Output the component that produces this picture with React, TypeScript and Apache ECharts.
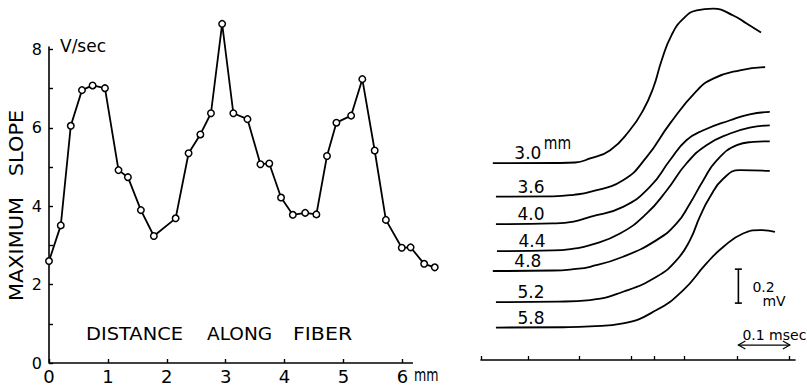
import React, { useEffect, useRef } from 'react';
import * as echarts from 'echarts';

// ---- Left panel: maximum slope vs distance along fiber ----
const distanceMm = [0, 0.2, 0.37, 0.56, 0.74, 0.95, 1.18, 1.34, 1.56, 1.78, 2.15, 2.37, 2.57, 2.75, 2.94, 3.13, 3.37, 3.59, 3.74, 3.94, 4.14, 4.35, 4.54, 4.72, 4.88, 5.13, 5.32, 5.53, 5.72, 5.99, 6.14, 6.37, 6.55];
const maxSlope = [2.6, 3.51, 6.05, 6.96, 7.08, 7.01, 4.92, 4.74, 3.9, 3.24, 3.69, 5.35, 5.83, 6.37, 8.65, 6.37, 6.22, 5.07, 5.09, 4.22, 3.78, 3.83, 3.79, 5.28, 6.13, 6.31, 7.24, 5.42, 3.65, 2.94, 2.95, 2.53, 2.44];
const xTickValues = [0, 1, 2, 3, 4, 5, 6];
const yTickValues = [0, 1, 2, 3, 4, 5, 6, 7, 8];
const yLabelValues = [0, 2, 4, 6, 8];
const xAxisEndMm = 6.18;

// ---- Right panel: recorded traces (time in msec, potential in mV) ----
const traceLabels = ['3.0', '3.6', '4.0', '4.4', '4.8', '5.2', '5.8'];
const trace30 = [[0.023, 1.159], [0.15, 1.16], [0.183, 1.163], [0.212, 1.187], [0.251, 1.235], [0.289, 1.353], [0.315, 1.471], [0.335, 1.606], [0.351, 1.765], [0.37, 1.912], [0.393, 2.01], [0.419, 2.059], [0.451, 2.069], [0.49, 2.029], [0.516, 1.981], [0.544, 1.928]];
const trace36 = [[0.029, 0.962], [0.14, 0.964], [0.18, 0.973], [0.212, 0.99], [0.276, 1.059], [0.322, 1.196], [0.367, 1.392], [0.418, 1.582], [0.451, 1.657], [0.503, 1.706], [0.552, 1.725]];
const trace40 = [[0.029, 0.8], [0.14, 0.804], [0.18, 0.815], [0.212, 0.843], [0.276, 0.902], [0.328, 1.019], [0.367, 1.176], [0.399, 1.294], [0.432, 1.353], [0.484, 1.412], [0.522, 1.447], [0.561, 1.461]];
const trace44 = [[0.031, 0.641], [0.14, 0.645], [0.18, 0.656], [0.212, 0.676], [0.27, 0.745], [0.322, 0.863], [0.361, 1.0], [0.399, 1.157], [0.438, 1.265], [0.484, 1.334], [0.522, 1.369], [0.561, 1.382]];
const trace48 = [[0.023, 0.524], [0.14, 0.527], [0.18, 0.535], [0.212, 0.549], [0.276, 0.608], [0.341, 0.706], [0.38, 0.804], [0.406, 0.922], [0.432, 1.059], [0.458, 1.176], [0.497, 1.265], [0.529, 1.284], [0.561, 1.288]];
const trace52 = [[0.029, 0.341], [0.15, 0.344], [0.212, 0.353], [0.276, 0.402], [0.341, 0.49], [0.38, 0.588], [0.406, 0.706], [0.425, 0.843], [0.445, 0.961], [0.471, 1.069], [0.503, 1.118], [0.561, 1.114]];
const trace58 = [[0.029, 0.191], [0.16, 0.193], [0.212, 0.198], [0.276, 0.216], [0.341, 0.294], [0.393, 0.412], [0.438, 0.569], [0.471, 0.667], [0.509, 0.745], [0.542, 0.765], [0.571, 0.755]];
const traces = [trace30, trace36, trace40, trace44, trace48, trace52, trace58];
const timeTicks = [0, 0.092, 0.191, 0.291, 0.336, 0.395, 0.497, 0.599];

// calibration marks
const calTimeMs = 0.5;
const calTimeSpanMs = 0.1;
const calVoltMv0 = 0.335;
const calVoltSpanMv = 0.2;
const calArrowMv = 0.088;

const FONT = 'DejaVu Sans';

export default function App() {
  const ref = useRef<HTMLDivElement>(null);
  useEffect(() => {
    if (!ref.current) return;
    const chart = echarts.init(ref.current, undefined, { renderer: 'svg' });
    const black = '#000';
    const option: any = {
      animation: false,
      backgroundColor: '#fff',
      grid: [
        { left: 49, top: 47, width: 388.7, height: 316, outerBoundsMode: 'none', containLabel: false },
        { left: 481, top: 0, width: 314, height: 360, outerBoundsMode: 'none', containLabel: false },
      ],
      xAxis: [
        {
          gridIndex: 0, type: 'value', min: 0, max: 6.6, interval: 1,
          axisLine: { show: false },
          axisTick: { show: true, inside: true, length: 4, customValues: xTickValues, lineStyle: { color: black, width: 1.4 } },
          axisLabel: { customValues: xTickValues, fontSize: 18, color: black, margin: 4, fontFamily: FONT },
          splitLine: { show: false },
        },
        {
          gridIndex: 1, type: 'value', min: 0, max: 0.61,
          axisLine: { show: true, onZero: false, lineStyle: { color: black, width: 1.6 } },
          axisTick: { show: true, inside: true, length: 4, customValues: timeTicks, lineStyle: { color: black, width: 1.3 } },
          axisLabel: { show: false },
          splitLine: { show: false },
        },
      ],
      yAxis: [
        {
          gridIndex: 0, type: 'value', min: 0, max: 8.06, interval: 1,
          axisLine: { show: true, onZero: false, lineStyle: { color: black, width: 1.6 } },
          axisTick: { show: true, inside: true, length: 4, customValues: yTickValues, lineStyle: { color: black, width: 1.4 } },
          axisLabel: { customValues: yLabelValues, fontSize: 16, color: black, margin: 7, fontFamily: FONT,
            formatter: (v: number) => (v % 2 === 0 ? String(v) : '') },
          splitLine: { show: false },
        },
        { gridIndex: 1, type: 'value', min: 0, max: 2.12, show: false, splitLine: { show: false } },
      ],
      series: [
        {
          type: 'line', xAxisIndex: 0, yAxisIndex: 0,
          data: distanceMm.map((d, i) => [d, maxSlope[i]]),
          symbol: 'circle', symbolSize: 6.5, showSymbol: true, showAllSymbol: true, clip: false,
          lineStyle: { color: black, width: 1.8 },
          itemStyle: { color: '#fff', borderColor: black, borderWidth: 1.5 },
          emphasis: { disabled: true }, z: 3,
        },
        ...traces.map((t) => ({
          type: 'line', xAxisIndex: 1, yAxisIndex: 1, data: t,
          showSymbol: false, symbol: 'none', smooth: 0.5, clip: false,
          lineStyle: { color: black, width: 1.8 },
          emphasis: { disabled: true },
        })),
      ],
    };
    chart.setOption(option);

    const toPx = (p: number[]) => chart.convertToPixel({ gridIndex: 1 }, p) as number[];
    const toPxL = (p: number[]) => chart.convertToPixel({ gridIndex: 0 }, p) as number[];
    const txt = (text: string, x: number, y: number, fontSize: number, extra: any = {}) => ({
      type: 'text', x, y, ...extra,
      style: { text, fontSize, fill: black, fontFamily: FONT, align: extra.align || 'left', verticalAlign: 'middle' },
    });
    const graphics: any[] = [];
    // left x axis line (ends short of the last measurements)
    const [lx0, ly0] = toPxL([0, 0]);
    const [lx1] = toPxL([xAxisEndMm, 0]);
    graphics.push({ type: 'line', shape: { x1: lx0, y1: ly0, x2: lx1, y2: ly0 }, style: { stroke: black, lineWidth: 1.6 }, z: 5 });
    // left panel annotations
    graphics.push(txt('V/sec', 60, 46, 17));
    graphics.push(txt('MAXIMUM', 16, 249, 19, { rotation: Math.PI / 2, scaleX: 1.1, align: 'center' }));
    graphics.push(txt('SLOPE', 16, 143, 19, { rotation: Math.PI / 2, scaleX: 1.1, align: 'center' }));
    graphics.push(txt('DISTANCE', 86, 334, 18, { scaleX: 1.08 }));
    graphics.push(txt('ALONG', 207, 334, 18, { scaleX: 1.03 }));
    graphics.push(txt('FIBER', 293, 334, 18, { scaleX: 1.14 }));
    graphics.push(txt('mm', 414, 375, 18, { scaleX: 0.7 }));

    // trace labels
    traces.forEach((t, i) => {
      const [px, py] = toPx(t[0]);
      graphics.push(txt(traceLabels[i], px + 35, py - 10, 17, { align: 'center' }));
      if (i === 0) graphics.push(txt('mm', px + 51, py - 20, 18, { scaleX: 0.78 }));
    });

    // voltage calibration bar
    const [bx, by0] = toPx([calTimeMs, calVoltMv0]);
    const [, by1] = toPx([calTimeMs, calVoltMv0 + calVoltSpanMv]);
    const ls = { stroke: black, lineWidth: 1.6 };
    graphics.push({ type: 'line', shape: { x1: bx, y1: by0, x2: bx, y2: by1 }, style: ls });
    graphics.push({ type: 'line', shape: { x1: bx - 3.5, y1: by0, x2: bx + 3.5, y2: by0 }, style: ls });
    graphics.push({ type: 'line', shape: { x1: bx - 3.5, y1: by1, x2: bx + 3.5, y2: by1 }, style: ls });
    graphics.push(txt('0.2', bx + 14, (by0 + by1) / 2 + 1, 14));
    graphics.push(txt('mV', bx + 24, by0 - 2, 14));

    // time calibration arrow
    const [ax0, ay] = toPx([calTimeMs, calArrowMv]);
    const [ax1] = toPx([calTimeMs + calTimeSpanMs, calArrowMv]);
    const als = { stroke: black, lineWidth: 1.2, fill: 'none' };
    graphics.push({ type: 'line', shape: { x1: ax0, y1: ay, x2: ax1, y2: ay }, style: als });
    graphics.push({ type: 'polyline', shape: { points: [[ax0 + 7, ay - 4], [ax0, ay], [ax0 + 7, ay + 4]] }, style: als });
    graphics.push({ type: 'polyline', shape: { points: [[ax1 - 7, ay - 4], [ax1, ay], [ax1 - 7, ay + 4]] }, style: als });
    graphics.push(txt('0.1 msec', ax0 + 4, ay - 10, 14));

    chart.setOption({ graphic: graphics });
    return () => chart.dispose();
  }, []);
  return <div ref={ref} style={{ position: 'absolute', left: 0, top: 0, width: 807, height: 386 }} />;
}
